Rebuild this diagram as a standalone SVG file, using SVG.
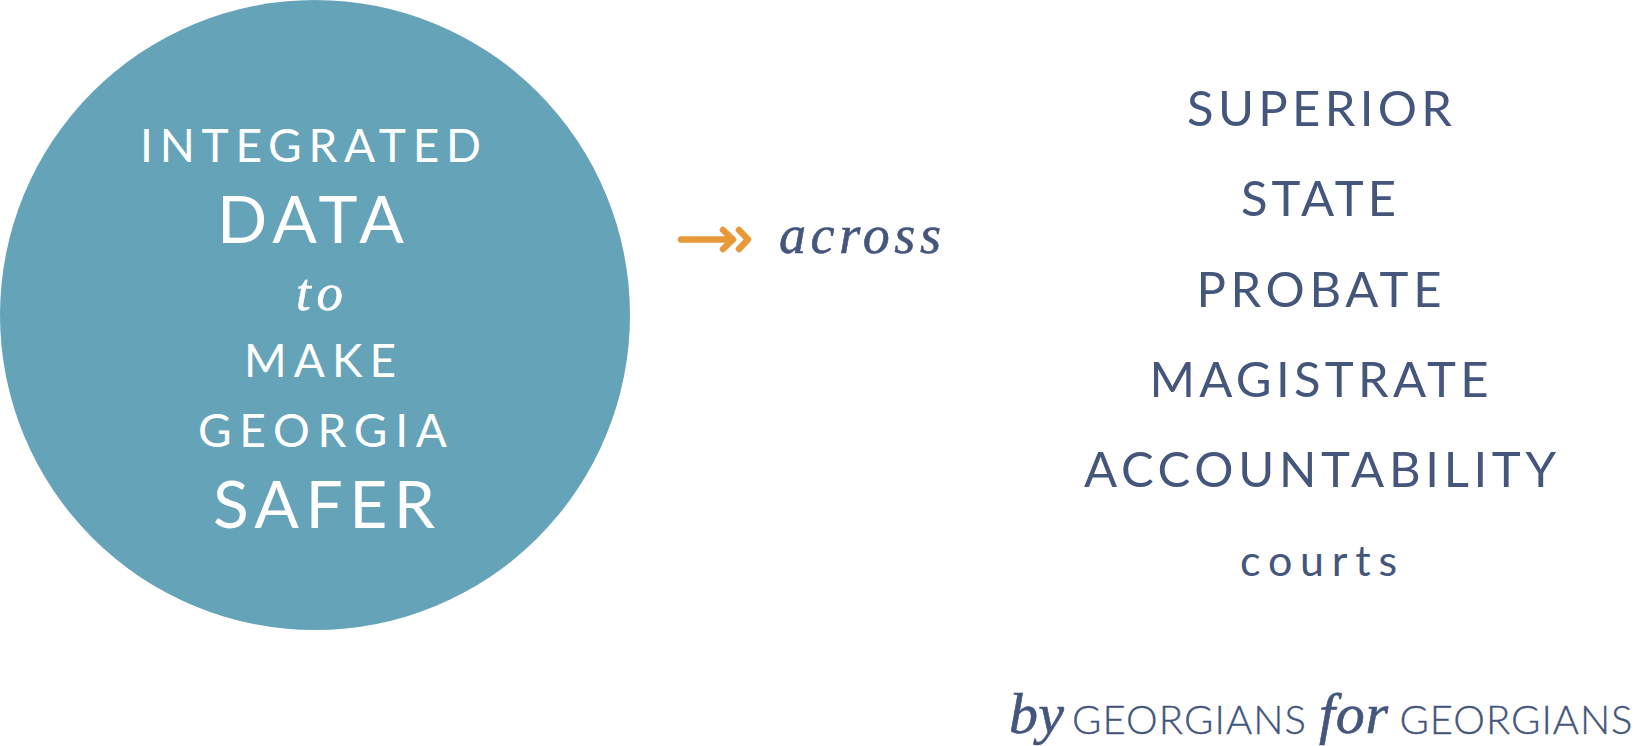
<svg xmlns="http://www.w3.org/2000/svg" width="1634" height="746" viewBox="0 0 1634 746">
<style>
.c{font-family:"Lato","Liberation Sans",sans-serif}
.w{fill:#fff}
.b{fill:#44567c}
.i{font-family:"Liberation Serif",serif;font-style:italic}
.s{stroke-width:.6}
.b.s{stroke:#44567c}
.w.s{stroke:#fff}
.t{font-weight:300;stroke:#44567c;stroke-width:.35}
</style>
<rect width="1634" height="746" fill="#fff"/>
<g id="circle-node">
<circle cx="315" cy="315" r="315" fill="#65a3b9"/>
<text class="c w" x="140" y="161.5" font-size="46" textLength="341">INTEGRATED</text>
<text class="c w" x="217" y="243" font-size="66" textLength="187">DATA</text>
<text class="i w s" x="296" y="309.5" font-size="53" textLength="47">to</text>
<text class="c w" x="244" y="377" font-size="46" textLength="152">MAKE</text>
<text class="c w" x="198" y="447" font-size="46" textLength="249">GEORGIA</text>
<text class="c w" x="213" y="528" font-size="66" textLength="222">SAFER</text>
</g>
<g id="connectors" fill="none" stroke="#e89a38" stroke-width="6.5" stroke-linecap="round" stroke-linejoin="round">
<path d="M681 239.5H732M723 230L733 239.5L723 249M739 230L748 239.5L739 249"/>
</g>
<g id="across"><text class="i b s" x="779" y="253" font-size="54" textLength="162">across</text></g>
<g id="courts">
<text class="c b" x="1187" y="126" font-size="49" textLength="265">SUPERIOR</text>
<text class="c b" x="1241" y="216" font-size="49" textLength="155">STATE</text>
<text class="c b" x="1196.5" y="306.5" font-size="49" textLength="245">PROBATE</text>
<text class="c b" x="1149.5" y="397" font-size="49" textLength="339">MAGISTRATE</text>
<text class="c b" x="1084" y="486.5" font-size="49" textLength="472">ACCOUNTABILITY</text>
<text class="c b" x="1240" y="576" font-size="43" textLength="157">courts</text>
</g>
<g id="tagline">
<text class="i b s" x="1009" y="733" font-size="58" textLength="55">by</text>
<text class="c t b" x="1072" y="733.5" font-size="40" textLength="234">GEORGIANS</text>
<text class="i b s" x="1319" y="733" font-size="58" textLength="69">for</text>
<text class="c t b" x="1399.5" y="733.5" font-size="40" textLength="233">GEORGIANS</text>
</g>
</svg>
